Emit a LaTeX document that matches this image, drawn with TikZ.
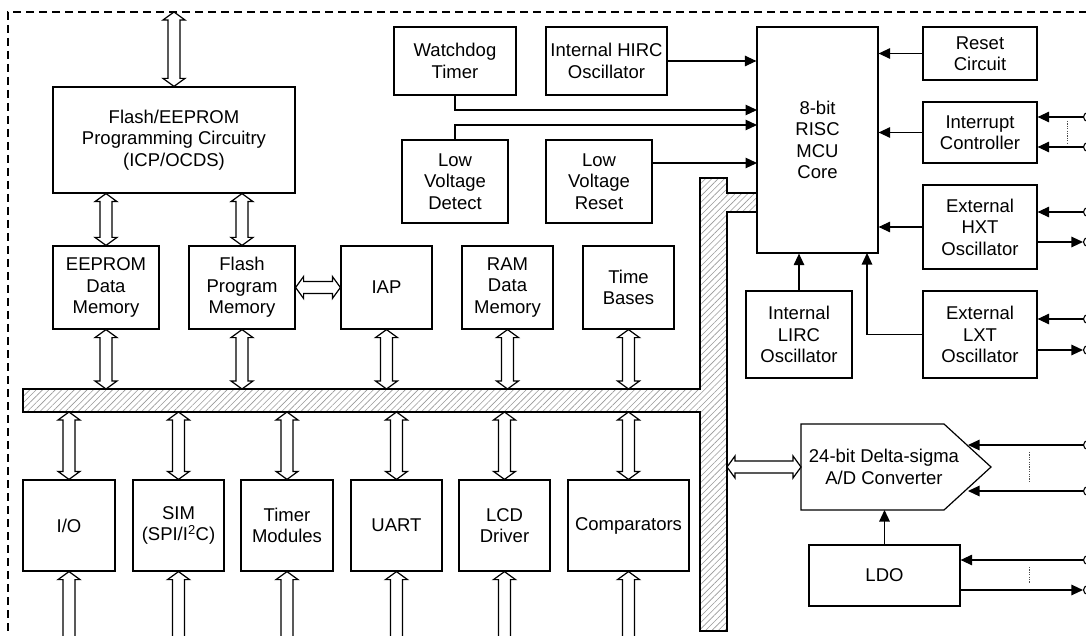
\documentclass[tikz,border=0pt]{standalone}
\usepackage{fontspec}
\setmainfont{Liberation Sans}
\usetikzlibrary{arrows.meta,patterns.meta,calc}
\tikzset{
  blk/.style={draw, line width=1.2pt, align=center, inner sep=0pt, fill=white,
    font=\fontsize{18.5}{21.5}\selectfont},
  txt/.style={align=center, inner sep=0pt, font=\fontsize{18.5}{21.5}\selectfont},
  arr/.style={line width=1.2pt, -{Triangle[length=11.5pt,width=10.5pt]}},
  pinc/.style={circle, draw, line width=1.1pt, fill=white, inner sep=0pt, minimum size=9pt},
  dotl/.style={line width=0.8pt, dash pattern=on 1.2pt off 1.2pt, black!70},
  vdarrow/.style={draw, fill=white, line width=1.2pt, line join=miter, to path={
    let \p1=(\tikztostart), \p2=(\tikztotarget), \n1={sign(\y2-\y1)} in
    (\x1,\y1) -- (\x1+11pt,\y1+\n1*8pt) -- (\x1+6pt,\y1+\n1*8pt) -- (\x1+6pt,\y2-\n1*8pt)
    -- (\x1+11pt,\y2-\n1*8pt) -- (\x1,\y2) -- (\x1-11pt,\y2-\n1*8pt) -- (\x1-6pt,\y2-\n1*8pt)
    -- (\x1-6pt,\y1+\n1*8pt) -- (\x1-11pt,\y1+\n1*8pt) -- cycle}},
  hdarrow/.style={draw, fill=white, line width=1.2pt, line join=miter, to path={
    let \p1=(\tikztostart), \p2=(\tikztotarget), \n1={sign(\x2-\x1)} in
    (\x1,\y1) -- (\x1+\n1*8pt,\y1+11pt) -- (\x1+\n1*8pt,\y1+6pt) -- (\x2-\n1*8pt,\y1+6pt)
    -- (\x2-\n1*8pt,\y1+11pt) -- (\x2,\y1) -- (\x2-\n1*8pt,\y1-11pt) -- (\x2-\n1*8pt,\y1-6pt)
    -- (\x1+\n1*8pt,\y1-6pt) -- (\x1+\n1*8pt,\y1-11pt) -- cycle}},
}
\begin{document}
\begin{tikzpicture}[x=1pt,y=-1pt]
\useasboundingbox (0,0) rectangle (1086,636);
\clip (0,0) rectangle (1086,636);
\fill[white] (0,0) rectangle (1086,636);

% dashed frame
\draw[line width=1.1pt, dash pattern=on 8pt off 5pt] (1100,12) -- (8,12) -- (8,650);

% bus
\fill[pattern={Lines[angle=45,distance=4.5pt,line width=0.6pt]}, pattern color=black!40]
  (23,389) -- (700,389) -- (700,178) -- (727,178) -- (727,193) -- (757,193) -- (757,212)
  -- (727,212) -- (727,631) -- (700,631) -- (700,412) -- (23,412) -- cycle;
\draw[line width=1.2pt]
  (23,389) -- (700,389) -- (700,178) -- (727,178) -- (727,193) -- (757,193) -- (757,212)
  -- (727,212) -- (727,631) -- (700,631) -- (700,412) -- (23,412) -- cycle;
\coordinate (busT) at (0,389);
\coordinate (busB) at (0,412);
\coordinate (vbusE) at (727,467);
\coordinate (botE) at (0,648);
\coordinate (pinTop) at (174,12);

% left blocks
\node[blk, minimum width=242, minimum height=106] (prog) at (174,140)
  {Flash/EEPROM\\Programming Circuitry\\(ICP/OCDS)};
\node[blk, minimum width=106, minimum height=83] (eeprom) at (106,287.5) {EEPROM\\Data\\Memory};
\node[blk, minimum width=106, minimum height=83] (flash) at (242,287.5) {Flash\\Program\\Memory};
\node[blk, minimum width=91, minimum height=83] (iap) at (386.5,287.5) {IAP};
\node[blk, minimum width=91, minimum height=83] (ram) at (507.5,287.5) {RAM\\Data\\Memory};
\node[blk, minimum width=91, minimum height=83] (tb) at (628.5,287.5) {Time\\Bases};

% bottom row
\node[blk, minimum width=92, minimum height=91] (io) at (69,525.5) {I/O};
\node[blk, minimum width=91, minimum height=91] (sim) at (178.5,525.5) {SIM\\(SPI/I\textsuperscript{2}C)};
\node[blk, minimum width=92, minimum height=91] (tmr) at (287,525.5) {Timer\\Modules};
\node[blk, minimum width=91, minimum height=91] (uart) at (396.5,525.5) {UART};
\node[blk, minimum width=91, minimum height=91] (lcd) at (504.5,525.5) {LCD\\Driver};
\node[blk, minimum width=121, minimum height=91] (cmp) at (628.5,525.5) {Comparators};

% top middle
\node[blk, minimum width=122, minimum height=68] (wdt) at (455,61) {Watchdog\\Timer};
\node[blk, minimum width=121, minimum height=68] (hirc) at (606.5,61) {Internal HIRC\\Oscillator};
\node[blk, minimum width=106, minimum height=83] (lvd) at (455,181.5) {Low\\Voltage\\Detect};
\node[blk, minimum width=106, minimum height=83] (lvr) at (599,181.5) {Low\\Voltage\\Reset};

% core and right blocks
\node[blk, minimum width=121, minimum height=226] (mcu) at (817.5,140) {8-bit\\RISC\\MCU\\Core};
\node[blk, minimum width=114, minimum height=53] (rst) at (980,53.5) {Reset\\Circuit};
\node[blk, minimum width=114, minimum height=61] (intc) at (980,132.5) {Interrupt\\Controller};
\node[blk, minimum width=114, minimum height=84] (hxt) at (980,227) {External\\HXT\\Oscillator};
\node[blk, minimum width=114, minimum height=87] (lxt) at (980,334.5) {External\\LXT\\Oscillator};
\node[blk, minimum width=106, minimum height=87] (lirc) at (799,334.5) {Internal\\LIRC\\Oscillator};
\node[blk, minimum width=151, minimum height=61] (ldo) at (884.5,575.5) {LDO};

% ADC
\draw[line width=1.2pt, fill=white] (801,424) -- (944,424) -- (991,467) -- (944,510) -- (801,510) -- cycle;
\node[txt] (adc) at (884,467) {24-bit Delta-sigma\\A/D Converter};
\coordinate (adcW) at (801,467);
\coordinate (adcS) at (884.5,510);
\coordinate (adcI1) at (968,445);
\coordinate (adcI2) at (968,491);

% double arrows
\draw[vdarrow] (pinTop) to (prog.north);
\draw[vdarrow] (prog.south -| eeprom.north) to (eeprom.north);
\draw[vdarrow] (prog.south -| flash.north) to (flash.north);
\draw[hdarrow] (flash.east) to (iap.west);
\foreach \bk in {eeprom,flash,iap,ram,tb}{
  \draw[vdarrow] (\bk.south) to (\bk.south |- busT);
}
\foreach \bk in {io,sim,tmr,uart,lcd,cmp}{
  \draw[vdarrow] (\bk.north |- busB) to (\bk.north);
  \draw[vdarrow] (\bk.south) to (\bk.south |- botE);
}
\draw[hdarrow] (vbusE) to (adcW);

% arrows into core
\coordinate (wdtIn) at (757,110);
\coordinate (lvdIn) at (757,125);
\coordinate (lvrIn) at (757,163);
\coordinate (lxtIn) at (867,253);
\draw[arr] (hirc.east) -- (hirc.east -| mcu.west);
\draw[arr] (wdt.south) |- (wdtIn);
\draw[arr] (lvd.north) |- (lvdIn);
\draw[arr] (lvr.east |- lvrIn) -- (lvrIn);
\draw[arr] (rst.west) -- (rst.west -| mcu.east);
\draw[arr] (intc.west) -- (intc.west -| mcu.east);
\draw[arr] (hxt.west) -- (hxt.west -| mcu.east);
\draw[arr] (lirc.north) -- (lirc.north |- mcu.south);
\draw[arr] (lxt.west) -| (lxtIn);
\draw[arr] (ldo.north) -- (adcS);

% pins
\node[pinc] (pi1) at (1088,117) {};
\node[pinc] (pi2) at (1088,147) {};
\node[pinc] (ph1) at (1088,212) {};
\node[pinc] (ph2) at (1088,242) {};
\node[pinc] (pl1) at (1088,319) {};
\node[pinc] (pl2) at (1088,350) {};
\node[pinc] (pa1) at (1088,445) {};
\node[pinc] (pa2) at (1088,491) {};
\node[pinc] (pd1) at (1088,560) {};
\node[pinc] (pd2) at (1088,590) {};
\draw[arr] (pi1) -- (pi1 -| intc.east);
\draw[arr] (pi2) -- (pi2 -| intc.east);
\draw[arr] (ph1) -- (ph1 -| hxt.east);
\draw[arr] (ph2 -| hxt.east) -- (ph2);
\draw[arr] (pl1) -- (pl1 -| lxt.east);
\draw[arr] (pl2 -| lxt.east) -- (pl2);
\draw[arr] (pa1) -- (adcI1);
\draw[arr] (pa2) -- (adcI2);
\draw[arr] (pd1) -- (pd1 -| ldo.east);
\draw[arr] (pd2 -| ldo.east) -- (pd2);

% dotted separators
\coordinate (di1) at (1067,121); \coordinate (di2) at (1067,143);
\coordinate (da1) at (1029,452); \coordinate (da2) at (1029,482);
\coordinate (dd1) at (1029,567); \coordinate (dd2) at (1029,583);
\draw[dotl] (di1) -- (di2);
\draw[dotl] (da1) -- (da2);
\draw[dotl] (dd1) -- (dd2);
\end{tikzpicture}
\end{document}
